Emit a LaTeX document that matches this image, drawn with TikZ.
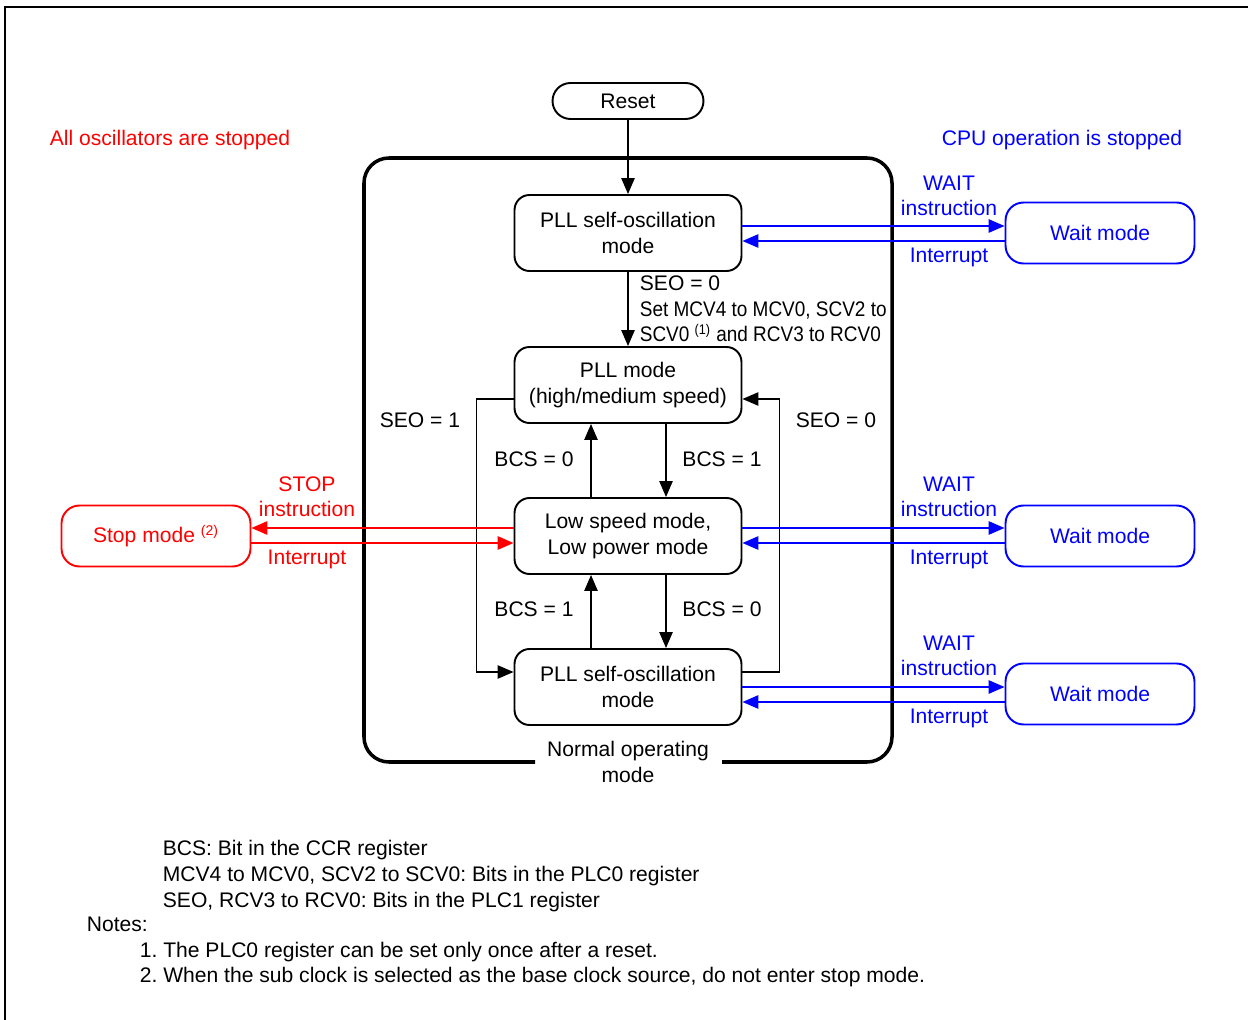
\documentclass[tikz,border=0pt]{standalone}
\usepackage{fontspec}
\setmainfont{Liberation Sans}
\newfontfamily\narrowfont[FakeStretch=0.9]{Liberation Sans}
\usetikzlibrary{arrows.meta, calc}
\newcommand{\diafont}{\fontsize{12}{14.5}\selectfont}
\frenchspacing

\begin{document}
\begin{tikzpicture}[x=0.02cm, y=-0.02cm, >={Triangle[length=9pt, width=7.5pt]}, line width=1pt, font=\diafont]
  % colours
  \definecolor{stopred}{RGB}{255,0,0}
  \definecolor{waitblue}{RGB}{0,0,255}
  \tikzset{
    modebox/.style={draw, line width=1.1pt, rounded corners=0.3cm, minimum width=4.54cm, minimum height=1.52cm, align=center, inner sep=0pt},
    sidebox/.style={modebox, minimum width=3.78cm, minimum height=1.22cm, rounded corners=0.36cm},
    flow/.style={->, line width=0.9pt},
    tag/.style={inner sep=0pt, text height=1.4ex, text depth=0pt},
    twoline/.style={inner sep=0pt, align=center},
    note/.style={tag, anchor=west},
  }
  \useasboundingbox (0,0) rectangle (1248,1020);

  % outer frame
  \draw[line width=1.2pt] (5,1020) -- (5,7) -- (1248,7);

  % headings
  \node[tag, stopred] (allstop) at (170,139) {All oscillators are stopped};
  \node[tag, waitblue] (cpustop) at (1062,139) {CPU operation is stopped};

  % normal operating mode frame
  \draw[line width=2pt, rounded corners=0.5cm] (535,762) -| (364,158) -| (892,762) -- (722,762);
  \node[twoline] (normal) at (628,762) {Normal operating\\mode};

  % mode boxes
  \node[modebox, minimum width=3.02cm, minimum height=0.72cm, rounded corners=0.36cm] (reset) at (628,101) {Reset};
  \node[modebox] (pllA) at (628,233) {PLL self-oscillation\\mode};
  \node[modebox] (pllB) at (628,385) {PLL mode\\(high/medium speed)};
  \node[modebox] (lowspd) at (628,536) {Low speed mode,\\Low power mode};
  \node[modebox] (pllC) at (628,687) {PLL self-oscillation\\mode};

  \node[sidebox, draw=waitblue, text=waitblue] (waitA) at (1100,233) {Wait mode};
  \node[sidebox, draw=waitblue, text=waitblue] (waitB) at (1100,536) {Wait mode};
  \node[sidebox, draw=waitblue, text=waitblue] (waitC) at (1100,694) {Wait mode};
  \node[sidebox, draw=stopred, text=stopred] (stop) at (156,536) {Stop mode \textsuperscript{(2)}};

  % reset and SEO = 0 transition
  \draw[flow] (reset) -- (pllA);
  \draw[flow] (pllA) -- (pllB);
  \node[twoline, align=left, anchor=west] (seoset) at (639,309) {SEO = 0\\{\narrowfont Set MCV4 to MCV0, SCV2 to}\\{\narrowfont SCV0 \textsuperscript{(1)} and RCV3 to RCV0}};

  % BCS transitions
  \draw[flow] ($(lowspd.north)+(-37,0)$) -- ($(pllB.south)+(-37,0)$);
  \draw[flow] ($(pllB.south)+(38,0)$) -- ($(lowspd.north)+(38,0)$);
  \draw[flow] ($(pllC.north)+(-37,0)$) -- ($(lowspd.south)+(-37,0)$);
  \draw[flow] ($(lowspd.south)+(38,0)$) -- ($(pllC.north)+(38,0)$);
  \node[tag] (bcsA) at (534,460) {BCS = 0};
  \node[tag] (bcsB) at (722,460) {BCS = 1};
  \node[tag] (bcsC) at (534,610) {BCS = 1};
  \node[tag] (bcsD) at (722,610) {BCS = 0};

  % SEO loops
  \draw[flow] ($(pllB.west)+(0,14)$) -- ++(-37,0) |- ($(pllC.west)+(0,-15)$);
  \draw[flow] ($(pllC.east)+(0,-15)$) -- ++(37,0) |- ($(pllB.east)+(0,14)$);
  \node[tag] (seoA) at (420,421) {SEO = 1};
  \node[tag] (seoB) at (836,421) {SEO = 0};

  % wait mode transitions
  \begin{scope}[waitblue, line width=1.1pt]
    \draw[->] ($(pllA.east)+(0,-7)$) -- ($(waitA.west)+(0,-7)$);
    \draw[->] ($(waitA.west)+(0,8)$) -- ($(pllA.east)+(0,8)$);
    \draw[->] ($(lowspd.east)+(0,-8)$) -- ($(waitB.west)+(0,-8)$);
    \draw[->] ($(waitB.west)+(0,7)$) -- ($(lowspd.east)+(0,7)$);
    \draw[->] ($(pllC.east |- waitC.west)+(0,-7)$) -- ($(waitC.west)+(0,-7)$);
    \draw[->] ($(waitC.west)+(0,8)$) -- ($(pllC.east |- waitC.west)+(0,8)$);
    \node[twoline] (waitinA) at (949,196) {WAIT\\instruction};
    \node[tag] (intA) at (949,256) {Interrupt};
    \node[twoline] (waitinB) at (949,497) {WAIT\\instruction};
    \node[tag] (intB) at (949,558) {Interrupt};
    \node[twoline] (waitinC) at (949,656) {WAIT\\instruction};
    \node[tag] (intC) at (949,717) {Interrupt};
  \end{scope}

  % stop mode transitions
  \begin{scope}[stopred, line width=1.1pt]
    \draw[->] ($(lowspd.west)+(0,-8)$) -- ($(stop.east)+(0,-8)$);
    \draw[->] ($(stop.east)+(0,7)$) -- ($(lowspd.west)+(0,7)$);
    \node[twoline] (stopin) at (307,497) {STOP\\instruction};
    \node[tag] (intS) at (307,558) {Interrupt};
  \end{scope}

  % notes
  \node[note] (noteA) at (162,849) {BCS: Bit in the CCR register};
  \node[note] (noteB) at (162,875) {MCV4 to MCV0, SCV2 to SCV0: Bits in the PLC0 register};
  \node[note] (noteC) at (162,901) {SEO, RCV3 to RCV0: Bits in the PLC1 register};
  \node[note] (noteD) at (86,925) {Notes:};
  \node[note] (noteE) at (139,951) {1. The PLC0 register can be set only once after a reset.};
  \node[note] (noteF) at (139,976) {2. When the sub clock is selected as the base clock source, do not enter stop mode.};
\end{tikzpicture}
\end{document}
